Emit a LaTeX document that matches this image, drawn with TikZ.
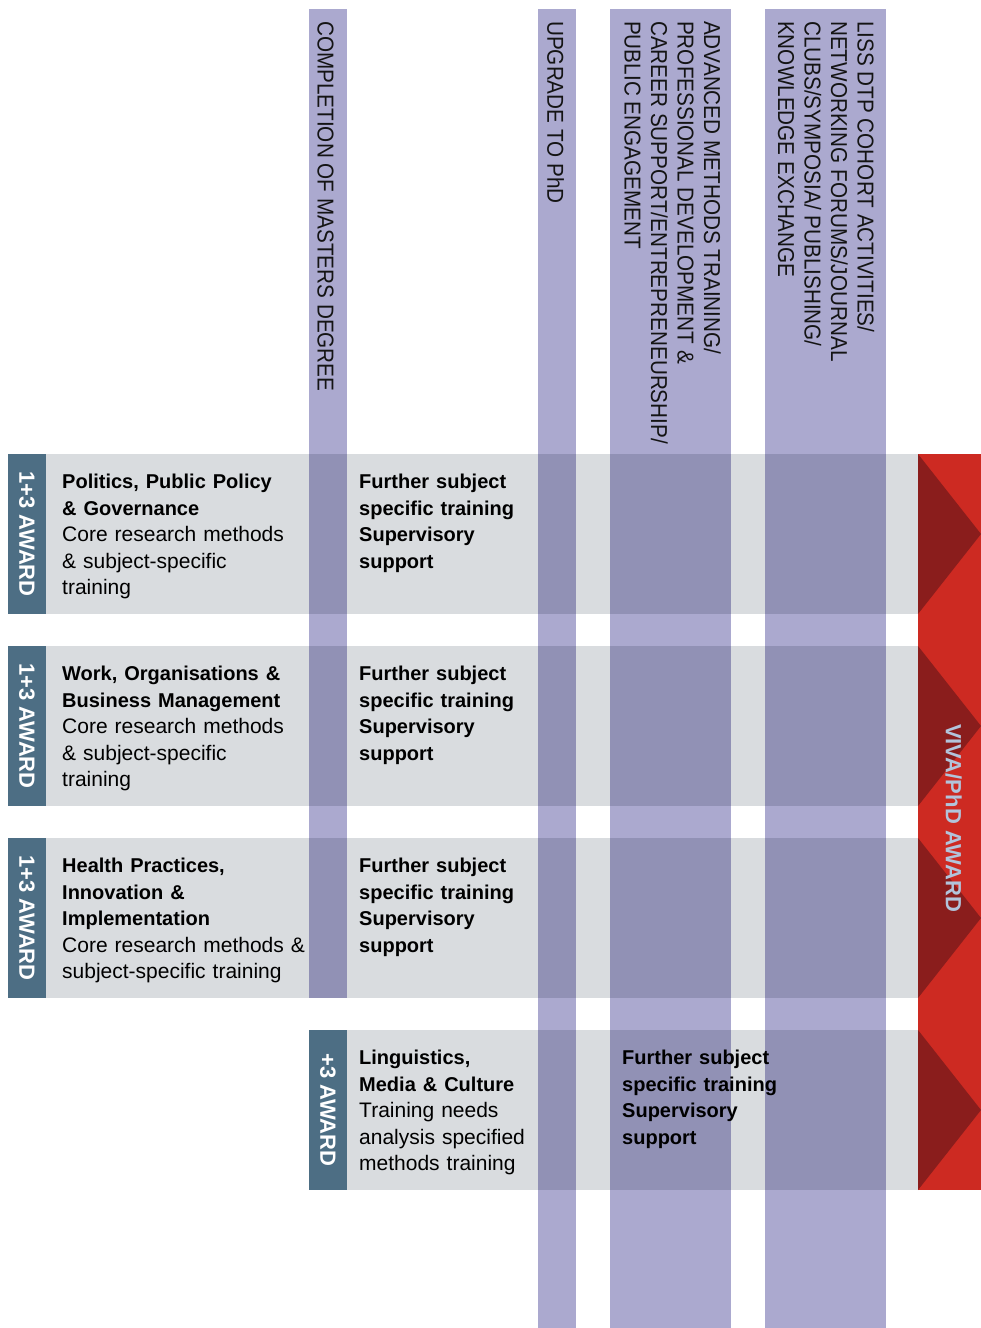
\documentclass[tikz,border=0pt]{standalone}
\usepackage{fontspec}
\setmainfont{Liberation Sans}
\usepackage[]{tikz}
\usetikzlibrary{positioning}
\definecolor{lissgray}{RGB}{217,220,223}
\definecolor{lissslate}{RGB}{77,110,132}
\definecolor{lisspurple}{RGB}{171,169,207}
\definecolor{lissred}{RGB}{205,42,34}
\definecolor{lissdarkred}{RGB}{138,29,28}
\definecolor{lisspale}{RGB}{178,196,219}
\newcommand{\rowhead}{\fontsize{20}{26.5}\selectfont\bfseries}
\newcommand{\rowbody}{\fontsize{21}{26.5}\selectfont\mdseries}
\tikzset{band/.style = {fill=lisspurple, blend mode=multiply}}
\tikzset{tabtext/.style = {white, rotate=-90, inner sep=0, font=\fontsize{22}{22}\selectfont\bfseries}}
\tikzset{collabel/.style = {rotate=-90, xscale=0.9, anchor=west, align=left, inner sep=0, text=black!92, font=\fontsize{23}{26.5}\selectfont}}
\tikzset{rowtext/.style = {anchor=north west, align=left, text width=260, inner sep=0, font=\rowbody}}

\begin{document}
\begin{tikzpicture}[x=1pt,y=-1pt]
        \useasboundingbox (0,0) rectangle (981,1328);
        \foreach \ytop in {454,646,838} {
            \fill [lissgray] (46,\ytop) rectangle (918,\ytop+160);
            \fill [lissslate] (8,\ytop) rectangle (46,\ytop+160);
        }
        \fill [lissgray] (347,1030) rectangle (918,1190);
        \fill [lissslate] (309,1030) rectangle (347,1190);
        \fill [lissred] (918,454) rectangle (981,1190);
        \foreach \ytop in {454,646,838,1030}
            \fill [lissdarkred] (918,\ytop) -- (981,\ytop+80) -- (918,\ytop+160) -- cycle;
        \fill [band] (309,9) rectangle (347,998);
        \fill [band] (538,9) rectangle (576,1328);
        \fill [band] (610,9) rectangle (731,1328);
        \fill [band] (765,9) rectangle (886,1328);
        \node [collabel] (masters) at (325.5,21) {COMPLETION OF MASTERS DEGREE};
        \node [collabel] (upgrade) at (555.5,21) {UPGRADE TO PhD};
        \node [collabel] (methods) at (672.5,21) {ADVANCED METHODS TRAINING/\\PROFESSIONAL DEVELOPMENT \&\\CAREER SUPPORT/ENTREPRENEURSHIP/\\PUBLIC ENGAGEMENT};
        \node [collabel] (cohort) at (826,21) {LISS DTP COHORT ACTIVITIES/\\NETWORKING FORUMS/JOURNAL\\CLUBS/SYMPOSIA/ PUBLISHING/\\KNOWLEDGE EXCHANGE};
        \node [tabtext] (polaward) at (27,534) {1+3 AWARD};
        \node [tabtext] (workaward) at (27,726) {1+3 AWARD};
        \node [tabtext] (healthaward) at (27,918) {1+3 AWARD};
        \node [tabtext] (lingaward) at (328,1110) {+3 AWARD};
        \node [rowtext] (pol) at (62,474) {\rowhead Politics, Public Policy\\ \& Governance\\ \rowbody Core research methods\\ \& subject-specific\\ training};
        \node [rowtext] (work) at (62,666) {\rowhead Work, Organisations \&\\ Business Management\\ \rowbody Core research methods\\ \& subject-specific\\ training};
        \node [rowtext] (health) at (62,858) {\rowhead Health Practices,\\ Innovation \&\\ Implementation\\ \rowbody Core research methods \&\\ subject-specific training};
        \node [rowtext] (ling) at (359,1050) {\rowhead Linguistics,\\ Media \& Culture\\ \rowbody Training needs\\ analysis specified\\ methods training};
        \node [rowtext] (polsup) at (359,474) {\rowhead Further subject\\ specific training\\ Supervisory\\ support};
        \node [rowtext] (worksup) at (359,666) {\rowhead Further subject\\ specific training\\ Supervisory\\ support};
        \node [rowtext] (healthsup) at (359,858) {\rowhead Further subject\\ specific training\\ Supervisory\\ support};
        \node [rowtext] (lingsup) at (622,1050) {\rowhead Further subject\\ specific training\\ Supervisory\\ support};
        \node [text=lisspale, rotate=-90, inner sep=0, font=\fontsize{22}{22}\selectfont\bfseries] (viva) at (953.5,818) {VIVA/PhD AWARD};
    \end{tikzpicture}
\end{document}
